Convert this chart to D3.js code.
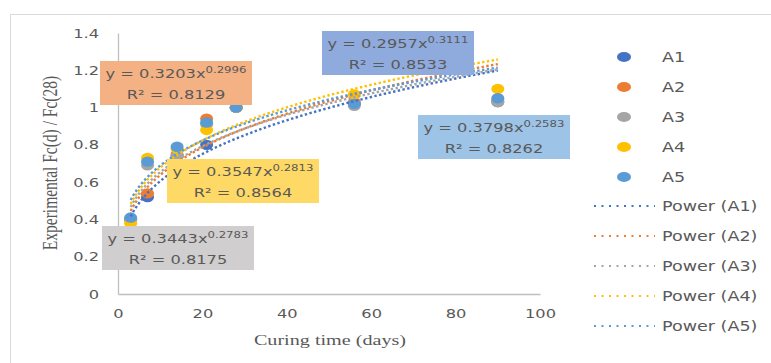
<!DOCTYPE html>
<html>
<head>
<meta charset="utf-8">
<script src="https://cdn.jsdelivr.net/npm/d3@7"></script>
<style>
  body { margin: 0; background: #fff; }
  svg { display: block; }
  .sx { transform-box: fill-box; transform: scaleX(1.3); }
  .oc { transform-origin: center; }
  .ol { transform-origin: left center; }
  .or { transform-origin: right center; }
</style>
</head>
<body>
<svg id="chart" width="771" height="363"></svg>
<script>
// curing days and normalised strength per mix
const days = [3, 7, 14, 21, 28, 56, 90];
const seriesNames = ["A1", "A2", "A3", "A4", "A5"];
const a1 = [0.40, 0.52, 0.74, 0.80, 1.00, 1.02, 1.03];
const a2 = [0.40, 0.54, 0.75, 0.94, 1.00, 1.03, 1.04];
const a3 = [0.40, 0.69, 0.74, 0.91, 1.00, 1.01, 1.03];
const a4 = [0.38, 0.73, 0.78, 0.88, 1.00, 1.07, 1.10];
const a5 = [0.41, 0.71, 0.79, 0.92, 1.00, 1.02, 1.05];
const values = [a1, a2, a3, a4, a5];

// power trendlines y = a * x^b as printed on the chart
const coefA = [0.2957, 0.3203, 0.3443, 0.3547, 0.3798];
const expB = [0.3111, 0.2996, 0.2783, 0.2813, 0.2583];
const rSquared = ["0.8533", "0.8129", "0.8175", "0.8564", "0.8262"];

const xTicks = [0, 20, 40, 60, 80, 100];
const yTicks = [0, 0.2, 0.4, 0.6, 0.8, 1, 1.2, 1.4];

const colors = ["#4472C4", "#ED7D31", "#A5A5A5", "#FFC000", "#5B9BD5"];
const boxFills = ["#8FAADC", "#F4B183", "#D0CECE", "#FFD966", "#9DC3E6"];
// label box layout (left, top) in pixels
const boxPos = [[322, 31], [100, 61], [102, 226], [167, 159], [418, 115]];
const BOX_W = 152, BOX_H = 44;

const svg = d3.select("#chart");
const sans = "'DejaVu Sans', sans-serif";
const serif = "'Liberation Serif', 'Times New Roman', serif";
const textCol = "#595959";

svg.append("rect")
  .attr("x", 10.5).attr("y", 14.5)
  .attr("width", 800).attr("height", 400)
  .attr("fill", "none").attr("stroke", "#D9D9D9");

const x = d3.scaleLinear().domain([0, 100]).range([118, 540]);
const y = d3.scaleLinear().domain([0, 1.4]).range([294, 33]);

// axes
const gx = svg.append("g")
  .attr("transform", "translate(0," + y(0) + ")")
  .call(d3.axisBottom(x).tickValues(xTicks).tickSize(0).tickPadding(15));
const gy = svg.append("g")
  .attr("transform", "translate(" + x(0) + ",0)")
  .call(d3.axisLeft(y).tickValues(yTicks).tickSize(0).tickPadding(19).tickFormat(d => String(d)));

[gx, gy].forEach(g => {
  g.select(".domain").attr("stroke", "#BFBFBF").attr("stroke-width", 1.3);
  g.selectAll("text")
    .attr("fill", textCol)
    .style("font-family", sans)
    .style("font-size", "12.5px");
});
gx.selectAll("text").classed("sx oc", true);
gy.selectAll("text").classed("sx or", true);

// axis titles
svg.append("text")
  .attr("x", 330).attr("y", 345)
  .attr("text-anchor", "middle")
  .attr("class", "sx oc")
  .style("font-family", serif).style("font-size", "15.5px")
  .attr("fill", textCol)
  .text("Curing time (days)");

svg.append("text")
  .attr("transform", "translate(57,163) scale(1.3,1) rotate(-90)")
  .attr("text-anchor", "middle")
  .style("font-family", serif).style("font-size", "15.5px")
  .attr("fill", textCol)
  .text("Experimental Fc(d) / Fc(28)");

// points
values.forEach((vals, i) => {
  svg.append("g").selectAll("ellipse")
    .data(days.map((d, j) => ({ d: d, v: vals[j] })))
    .enter().append("ellipse")
    .attr("cx", p => x(p.d))
    .attr("cy", p => y(p.v))
    .attr("rx", 6.5).attr("ry", 5.2)
    .attr("fill", colors[i]);
});

// trendlines
const line = d3.line().x(p => x(p[0])).y(p => y(p[1]));
const xs = d3.range(3, 90.01, 0.5);
values.forEach((vals, i) => {
  svg.append("path")
    .attr("d", line(xs.map(t => [t, coefA[i] * Math.pow(t, expB[i])])))
    .attr("fill", "none")
    .attr("stroke", colors[i])
    .attr("stroke-width", 2.4)
    .attr("stroke-dasharray", "2.4 2.4");
});

// equation boxes
seriesNames.forEach((n, i) => {
  const g = svg.append("g").attr("transform", "translate(" + boxPos[i][0] + "," + boxPos[i][1] + ")");
  g.append("rect").attr("width", BOX_W).attr("height", BOX_H).attr("fill", boxFills[i]);
  const t1 = g.append("text")
    .attr("x", BOX_W / 2).attr("y", 17)
    .attr("text-anchor", "middle")
    .attr("class", "sx oc")
    .style("font-family", sans).style("font-size", "12.5px")
    .attr("fill", textCol);
  t1.append("tspan").text("y = " + coefA[i].toFixed(4) + "x");
  t1.append("tspan").attr("dy", -5).style("font-size", "9px").text(expB[i].toFixed(4));
  g.append("text")
    .attr("x", BOX_W / 2).attr("y", 38)
    .attr("text-anchor", "middle")
    .attr("class", "sx oc")
    .style("font-family", sans).style("font-size", "12.5px")
    .attr("fill", textCol)
    .text("R\u00B2 = " + rSquared[i]);
});

// legend
const legend = svg.append("g");
seriesNames.forEach((n, i) => {
  const ly = 57 + i * 30;
  legend.append("ellipse").attr("cx", 624).attr("cy", ly).attr("rx", 7).attr("ry", 5).attr("fill", colors[i]);
  legend.append("text").attr("x", 662).attr("y", ly + 5)
    .attr("class", "sx ol")
    .style("font-family", sans).style("font-size", "13.5px")
    .attr("fill", textCol).text(n);
});
seriesNames.forEach((n, i) => {
  const ly = 206 + i * 30;
  legend.append("line")
    .attr("x1", 594).attr("x2", 655).attr("y1", ly).attr("y2", ly)
    .attr("stroke", colors[i]).attr("stroke-width", 2)
    .attr("stroke-dasharray", "2 5.5");
  legend.append("text").attr("x", 662).attr("y", ly + 5)
    .attr("class", "sx ol")
    .style("font-family", sans).style("font-size", "13.5px")
    .attr("fill", textCol).text("Power (" + n + ")");
});
</script>
</body>
</html>
